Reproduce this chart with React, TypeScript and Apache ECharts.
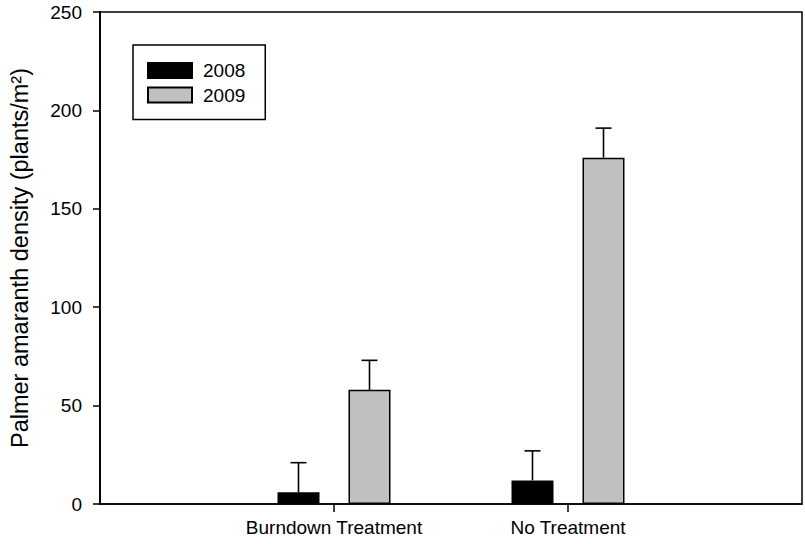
import React, { useEffect, useRef } from "react";
import * as echarts from "echarts";

const categories = ["", "Burndown Treatment", "No Treatment", ""];
const years = ["2008", "2009"];
const values2008 = [null, 6, 12, null];
const values2009 = [null, 58, 176, null];
const errors2008 = [null, 15, 15, null];
const errors2009 = [null, 15, 15, null];
const yTicks = { min: 0, max: 250, interval: 50 };

const FONT = "Liberation Sans, Arial, sans-serif";
const BAR_W = 42;
const GAP_PX = 29;

function errData(vals: (number | null)[], errs: (number | null)[]) {
  const out: number[][] = [];
  vals.forEach((v, i) => {
    const e = errs[i];
    if (v != null && e != null) out.push([i, v, e]);
  });
  return out;
}

function makeErrSeries(name: string, data: number[][], offset: number) {
  return {
    type: "custom",
    name,
    z: 5,
    data,
    encode: { x: 0, y: 1 },
    renderItem: (params: any, api: any) => {
      const xi = api.value(0);
      const mean = api.value(1);
      const err = api.value(2);
      const base = api.coord([xi, mean]);
      const top = api.coord([xi, mean + err]);
      const x = base[0] + offset;
      const cap = 8;
      const style = { stroke: "#000", lineWidth: 1.6, fill: "none" };
      return {
        type: "group",
        children: [
          { type: "line", shape: { x1: x, y1: base[1], x2: x, y2: top[1] }, style },
          { type: "line", shape: { x1: x - cap, y1: top[1], x2: x + cap, y2: top[1] }, style },
        ],
      };
    },
  };
}

export default function App() {
  const ref = useRef<HTMLDivElement>(null);
  useEffect(() => {
    if (!ref.current) return;
    const chart = echarts.init(ref.current, null, { renderer: "svg" });
    const off = (BAR_W + GAP_PX) / 2;
    chart.setOption({
      animation: false,
      backgroundColor: "#fff",
      textStyle: { fontFamily: FONT },
      grid: {
        left: 99,
        right: 2,
        top: 12,
        bottom: 40,
        show: true,
        borderColor: "#000",
        borderWidth: 1.5,
        backgroundColor: "transparent",
      },
      legend: {
        data: years,
        orient: "vertical",
        left: 133,
        top: 45,
        padding: [16, 20, 15, 14],
        itemGap: 5.5,
        itemWidth: 44,
        itemHeight: 15,
        borderColor: "#000",
        borderWidth: 1.5,
        borderRadius: 0,
        icon: "rect",
        textStyle: { fontSize: 19, color: "#000", fontFamily: FONT, lineHeight: 19, padding: [0, 0, 0, 6] },
      },
      xAxis: {
        type: "category",
        data: categories,
        boundaryGap: false,
        axisLine: { lineStyle: { color: "#000", width: 1.6 } },
        axisTick: {
          inside: false,
          length: 8,
          interval: (i: number) => i === 1 || i === 2,
          lineStyle: { color: "#000", width: 1.5 },
        },
        axisLabel: {
          interval: 0,
          margin: 14,
          fontSize: 19,
          color: "#000",
          fontFamily: FONT,
        },
        splitLine: { show: false },
      },
      yAxis: {
        type: "value",
        min: yTicks.min,
        max: yTicks.max,
        interval: yTicks.interval,
        name: "Palmer amaranth density (plants/m²)",
        nameLocation: "middle",
        nameRotate: 90,
        nameGap: 68,
        nameTextStyle: { fontSize: 23.5, color: "#000", fontFamily: FONT },
        axisLine: { show: true, lineStyle: { color: "#000", width: 1.8 } },
        axisTick: { show: true, inside: false, length: 7, lineStyle: { color: "#000", width: 1.5 } },
        axisLabel: { margin: 18, fontSize: 19, color: "#000", fontFamily: FONT },
        splitLine: { show: false },
      },
      series: [
        {
          type: "bar",
          name: years[0],
          data: values2008,
          barWidth: BAR_W,
          barGap: (GAP_PX / BAR_W) * 100 + "%",
          itemStyle: { color: "#000", borderColor: "#000", borderWidth: 1.5 },
        },
        {
          type: "bar",
          name: years[1],
          data: values2009,
          barWidth: BAR_W,
          barGap: (GAP_PX / BAR_W) * 100 + "%",
          itemStyle: { color: "#c0c0c0", borderColor: "#000", borderWidth: 1.5 },
        },
        makeErrSeries("err2008", errData(values2008, errors2008), -off),
        makeErrSeries("err2009", errData(values2009, errors2009), off),
      ],
    });
    return () => chart.dispose();
  }, []);
  return (
    <div
      ref={ref}
      style={{ position: "absolute", left: 0, top: 0, width: 805, height: 544 }}
    />
  );
}
